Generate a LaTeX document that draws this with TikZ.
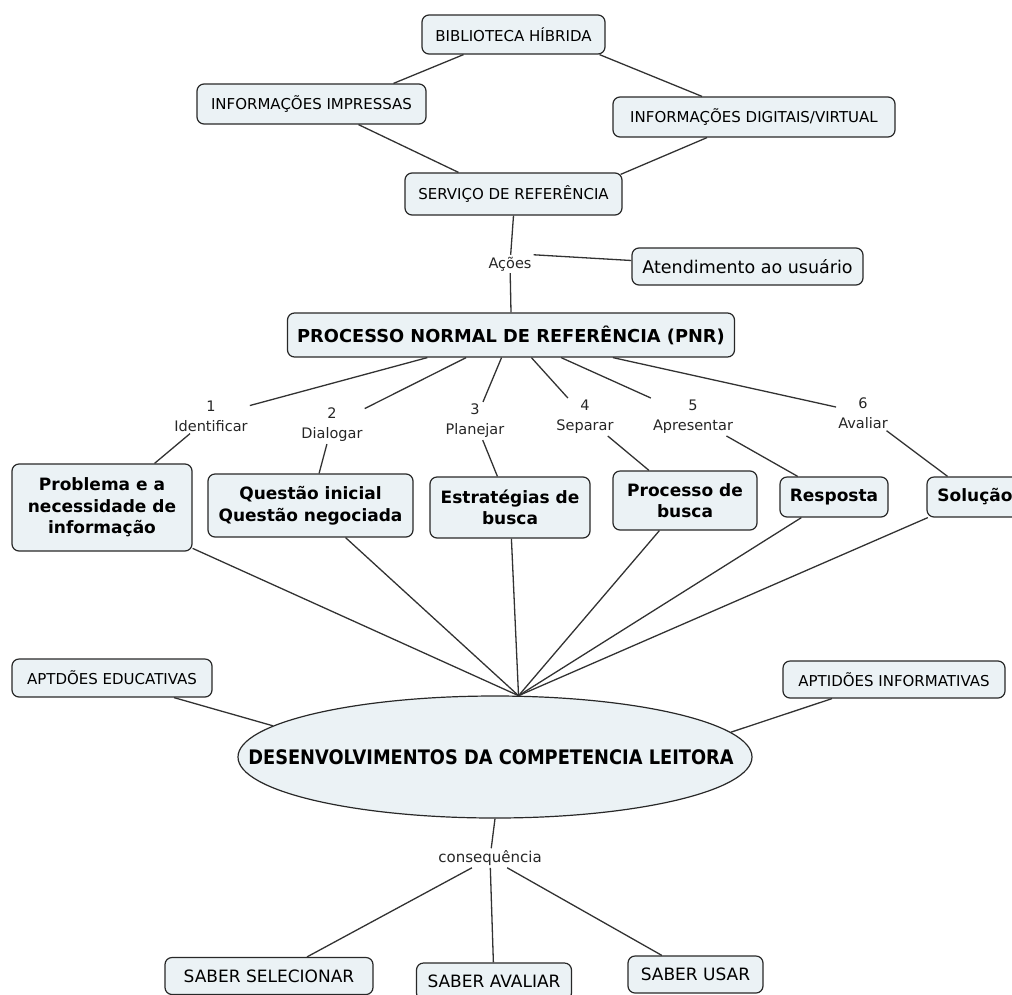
\documentclass[tikz,border=0pt]{standalone}
\usepackage{fontspec}
\setmainfont{DejaVu Sans}
\usepackage{graphicx}
\usetikzlibrary{shapes.geometric}

\definecolor{boxfill}{RGB}{235,242,245}
\definecolor{edge}{RGB}{40,40,40}
\definecolor{link}{RGB}{50,50,50}

\tikzset{
  concept/.style={draw=edge, line width=1.2pt, fill=boxfill, rounded corners=7pt,
                  inner sep=0pt, align=center, text=black},
  caps/.style={concept, font=\fontsize{15}{18}\selectfont},
  big/.style={concept, font=\bfseries\fontsize{17}{21.5}\selectfont},
  linkword/.style={inner sep=2pt, align=center, text=black!85,
                   font=\fontsize{14.5}{20}\selectfont},
  conn/.style={draw=link, line width=1.3pt},
}

\begin{document}
\begin{tikzpicture}[x=1pt,y=-1pt]
\useasboundingbox (0,0) rectangle (1012,994);
\clip (0,0) rectangle (1012,994);

% --- top: library and reference service
\node[caps, minimum width=183pt, minimum height=39pt] (bib)  at (513.5,34.5) {BIBLIOTECA HÍBRIDA};
\node[caps, minimum width=229pt, minimum height=40pt] (imp)  at (311.5,104)  {INFORMAÇÕES IMPRESSAS};
\node[caps, minimum width=282pt, minimum height=40pt] (dig)  at (754,117)    {INFORMAÇÕES DIGITAIS/VIRTUAL};
\node[caps, minimum width=217pt, minimum height=42pt] (serv) at (513.5,194)  {SERVIÇO DE REFERÊNCIA};
\node[linkword] (acoes) at (510,264) {Ações};
\node[concept, font=\fontsize{17.5}{21}\selectfont, minimum width=231pt, minimum height=37pt]
     (atend) at (747.5,266.5) {Atendimento ao usuário};
\node[concept, font=\bfseries\fontsize{17.8}{21}\selectfont, minimum width=447pt, minimum height=44pt]
     (pnr) at (511,335) {PROCESSO NORMAL DE REFERÊNCIA (PNR)};

% --- the six steps
\node[linkword] (l1) at (211,416) {1\\Identificar};
\node[linkword] (l2) at (332,425) {2\\Dialogar};
\node[linkword] (l3) at (475,421) {3\\Planejar};
\node[linkword] (l4) at (585,417) {4\\Separar};
\node[linkword] (l5) at (693,417) {5\\Apresentar};
\node[linkword] (l6) at (863,413) {6\\Avaliar};

\node[big, minimum width=180pt, minimum height=87pt] (c1) at (102,507.5) {Problema e a\\necessidade de\\informação};
\node[big, minimum width=205pt, minimum height=63pt] (c2) at (310.5,505.5) {Questão inicial\\Questão negociada};
\node[big, minimum width=160pt, minimum height=61pt] (c3) at (510,507.5) {Estratégias de\\busca};
\node[big, minimum width=144pt, minimum height=59pt] (c4) at (685,500.5) {Processo de\\busca};
\node[big, minimum width=108pt, minimum height=40pt] (c5) at (834,497) {Resposta};
\node[big, minimum width=96pt,  minimum height=40pt] (c6) at (975,497) {Solução};

% --- reading competence
\node[ellipse, draw=edge, line width=1.2pt, fill=boxfill, inner sep=0pt,
      minimum width=514pt, minimum height=122pt] (ell) at (495,757) {};
\node[inner sep=0pt, font=\bfseries\fontsize{20}{24}\selectfont] (elltext) at (491,757)
     {\scalebox{0.89}[1]{DESENVOLVIMENTOS DA COMPETENCIA LEITORA}};
\coordinate (hub) at (ell.69);

\node[caps, minimum width=200pt, minimum height=38pt] (apedu) at (112,678)   {APTDÕES EDUCATIVAS};
\node[caps, minimum width=222pt, minimum height=37pt] (apinf) at (894,679.5) {APTIDÕES INFORMATIVAS};

\node[linkword, font=\fontsize{15}{18}\selectfont] (cons) at (490,858) {consequência};
\node[concept, font=\fontsize{17}{20}\selectfont, minimum width=208pt, minimum height=37pt] (sel) at (269,976) {SABER SELECIONAR};
\node[concept, font=\fontsize{17}{20}\selectfont, minimum width=155pt, minimum height=37pt] (ava) at (494,981.5) {SABER AVALIAR};
\node[concept, font=\fontsize{17}{20}\selectfont, minimum width=135pt, minimum height=37pt] (usa) at (695.5,974.5) {SABER USAR};

% --- connectors
\draw[conn] ([xshift=-50pt]bib.south) -- ([xshift=82pt]imp.north);
\draw[conn] ([xshift=86pt]bib.south) -- ([xshift=-52pt]dig.north);
\draw[conn] ([xshift=47pt]imp.south) -- ([xshift=-55pt]serv.north);
\draw[conn] ([xshift=-47pt]dig.south) -- ([xshift=-2pt,yshift=-2pt]serv.north east);
\draw[conn] (serv.south) -- (acoes);
\draw[conn] (acoes) -- (pnr.north);
\draw[conn] (acoes.north east) -- ([yshift=6pt]atend.west);

\foreach \i in {1,...,6} {
  \draw[conn] (pnr) -- (l\i);
  \draw[conn] (l\i) -- (c\i);
  \draw[conn] (c\i) -- (hub);
}

\draw[conn] ([xshift=62pt]apedu.south) -- (ell.172.5);
\draw[conn] ([xshift=-62pt]apinf.south) -- (ell.6.3);

\draw[conn] (ell.south) -- (cons);
\draw[conn] (cons) -- ([xshift=38pt]sel.north);
\draw[conn] (cons) -- (ava);
\draw[conn] (cons) -- (usa);
\end{tikzpicture}
\end{document}
